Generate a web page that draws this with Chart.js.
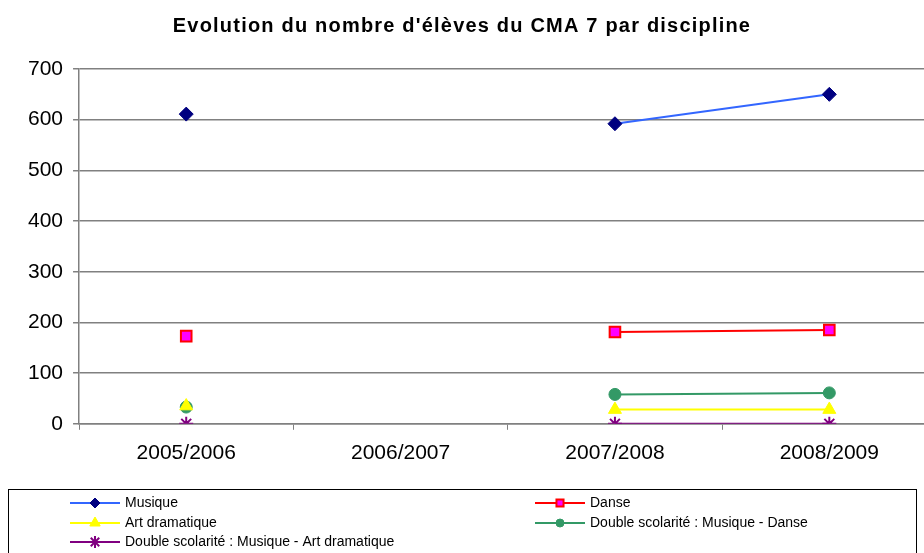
<!DOCTYPE html>
<html><head><meta charset="utf-8">
<script src="https://cdn.jsdelivr.net/npm/chart.js@4/dist/chart.umd.min.js"></script>
<style>
html,body{margin:0;padding:0;background:#fff;overflow:hidden;width:924px;height:553px}
#wrap{position:absolute;left:0;top:0;width:946px;height:553px}
</style></head><body>
<div id="wrap"><canvas id="c" width="946" height="553"></canvas></div>
<script>
const categories = ['2005/2006', '2006/2007', '2007/2008', '2008/2009'];
const musique = [611, null, 592, 650];
const danse = [173, null, 181, 185];
const artDramatique = [35, null, 28, 28];
const doubleMusiqueDanse = [33, null, 58, 61];
const doubleMusiqueArt = [0, null, 0, 0];
const seriesNames = ['Musique', 'Danse', 'Art dramatique', 'Double scolarit\u00e9 : Musique - Danse', 'Double scolarit\u00e9 : Musique - Art dramatique'];
const yTicks = [0, 100, 200, 300, 400, 500, 600, 700];
const titleText = "Evolution du nombre d'\u00e9l\u00e8ves du CMA 7 par discipline";

const FONT = "'Liberation Sans', Arial, sans-serif";

const decorPlugin = {
  id: 'decor',
  afterDraw(chart) {
    const ctx = chart.ctx;
    ctx.save();
    // title
    ctx.fillStyle = '#000';
    ctx.font = 'bold 20px ' + FONT;
    try { ctx.letterSpacing = '1.2px'; } catch (e) {}
    ctx.textAlign = 'center';
    ctx.textBaseline = 'alphabetic';
    ctx.fillText(chart.options.plugins.customTitle.text, 462, 32);
    try { ctx.letterSpacing = '0px'; } catch (e) {}
    // legend box
    ctx.strokeStyle = '#000';
    ctx.lineWidth = 1;
    ctx.strokeRect(8.5, 489.5, 908, 80);
    const pos = [[70, 503], [535, 503], [70, 523], [535, 523], [70, 542]];
    chart.data.datasets.forEach((ds, i) => {
      const [x, y] = pos[i];
      ctx.strokeStyle = ds.borderColor;
      ctx.lineWidth = 2;
      ctx.beginPath(); ctx.moveTo(x, y); ctx.lineTo(x + 50, y); ctx.stroke();
      ctx.fillStyle = ds.pointBackgroundColor;
      ctx.strokeStyle = ds.pointBorderColor;
      ctx.lineWidth = ds.pointBorderWidth;
      Chart.helpers.drawPoint(ctx, {pointStyle: ds.pointStyle, radius: ds.legendRadius, rotation: 0, borderWidth: ds.pointBorderWidth}, x + 25, y);
      ctx.fillStyle = '#000';
      ctx.font = '14px ' + FONT;
      ctx.textBaseline = 'middle';
      ctx.textAlign = 'left';
      ctx.fillText(ds.label, x + 55, y + 0.5);
    });
    ctx.restore();
  }
};

new Chart(document.getElementById('c'), {
  type: 'line',
  data: {
    labels: categories,
    datasets: [
      {label: seriesNames[0], data: musique, borderColor: '#3366FF', pointBackgroundColor: '#000080', pointBorderColor: '#000080', pointStyle: 'rectRot', pointRadius: 7, legendRadius: 5, pointBorderWidth: 1, borderWidth: 2},
      {label: seriesNames[1], data: danse, borderColor: '#FF0000', pointBackgroundColor: '#FF00FF', pointBorderColor: '#FF0000', pointStyle: 'rect', pointRadius: 7.5, legendRadius: 5, pointBorderWidth: 2, borderWidth: 2},
      {label: seriesNames[2], data: artDramatique, borderColor: '#FFFF00', pointBackgroundColor: '#FFFF00', pointBorderColor: '#FFFF00', pointStyle: 'triangle', pointRadius: 7.5, legendRadius: 6, pointBorderWidth: 1, borderWidth: 2},
      {label: seriesNames[3], data: doubleMusiqueDanse, borderColor: '#339966', pointBackgroundColor: '#339966', pointBorderColor: '#339966', pointStyle: 'circle', pointRadius: 6, legendRadius: 4, pointBorderWidth: 1, borderWidth: 2},
      {label: seriesNames[4], data: doubleMusiqueArt, borderColor: '#800080', pointBackgroundColor: '#800080', pointBorderColor: '#800080', pointStyle: 'star', pointRadius: 7, legendRadius: 6, pointBorderWidth: 2, borderWidth: 2}
    ]
  },
  options: {
    responsive: false,
    animation: false,
    devicePixelRatio: 1,
    spanGaps: false,
    layout: {padding: {left: 18, right: 0, top: 69, bottom: 76}},
    plugins: {
      legend: {display: false},
      tooltip: {enabled: false},
      title: {display: false},
      customTitle: {text: titleText}
    },
    scales: {
      x: {
        offset: true,
        grid: {display: true, offset: true, drawOnChartArea: false, drawTicks: true, tickLength: 6, color: '#808080', lineWidth: 1},
        border: {display: true, color: '#808080', width: 1.5},
        ticks: {color: '#000', font: {family: FONT, size: 21}, padding: 11, maxRotation: 0}
      },
      y: {
        min: 0, max: 700,
        afterBuildTicks(scale) { scale.ticks = yTicks.map(v => ({value: v})); },
        grid: {color: '#808080', lineWidth: 1.5, drawTicks: true, tickLength: 6},
        border: {display: true, color: '#808080', width: 1.5},
        ticks: {color: '#000', font: {family: FONT, size: 21}, padding: 10}
      }
    }
  },
  plugins: [decorPlugin]
});
</script>
</body></html>
